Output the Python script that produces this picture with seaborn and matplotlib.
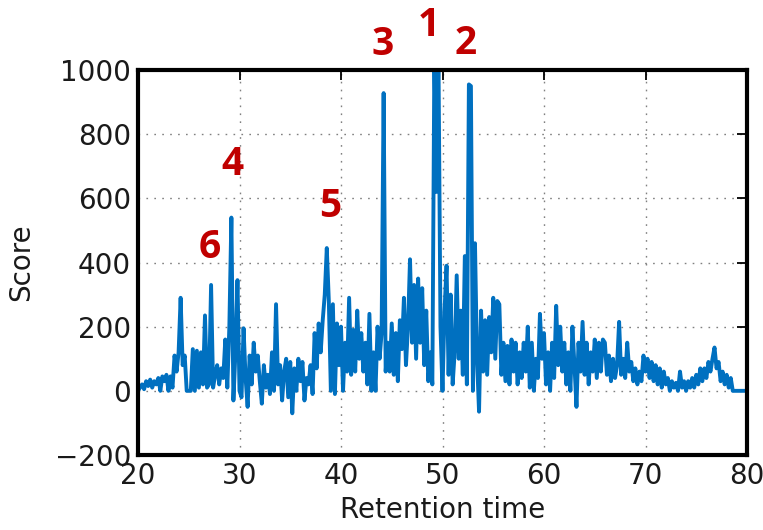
import numpy as np
import pandas as pd
import matplotlib
matplotlib.use("Agg")
import matplotlib.pyplot as plt
import seaborn as sns

# Retention time grid (0.2 min sampling) and scores
rt_start, rt_stop, rt_step = 20.0, 80.0, 0.2
score = [
    0, 10, 20, 5, 30, 15, 35, 10, 30, 20,            # 20.0-21.8
    40, 0, 45, 30, 50, 0, 45, 10, 110, 60,           # 22.0-23.8
    120, 290, 80, 110, 0, 0, 0, 130, 0, 125,         # 24.0-25.8
    10, 120, 20, 235, 10, 20, 330, 10, 50, 80,       # 26.0-27.8
    20, 70, 40, 160, 10, 200, 540, -30, 120, 345,    # 28.0-29.8
    0, -20, 195, 40, -50, 110, 20, 150, 60, 110,     # 30.0-31.8
    30, -40, 80, 10, 50, -10, 120, 0, 270, 20,       # 32.0-33.8
    80, -30, 60, 100, -20, 90, -70, 70, 0, 100,      # 34.0-35.8
    30, 90, -30, 40, 20, 80, -10, 180, 70, 210,      # 36.0-37.8
    120, 220, 300, 445, 280, 0, 270, -10, 210, 80,   # 38.0-39.8
    200, 0, 150, 60, 290, 50, 190, 60, 250, 100,     # 40.0-41.8
    180, 60, 150, 20, 240, 0, 120, 0, 200, 100,      # 42.0-43.8
    180, 928, 60, 150, 60, 210, 50, 180, 30, 220,    # 44.0-45.8
    130, 290, 80, 200, 410, 150, 330, 100, 350, 150, # 46.0-47.8
    320, 80, 250, 30, 120, 20, 1050, 620, 1050, 200, # 48.0-49.8
    0, 250, 390, 50, 300, 20, 120, 360, 100, 250,    # 50.0-51.8
    50, 420, 20, 955, 950, 0, 460, 100, -65, 250,    # 52.0-53.8
    60, 220, 50, 230, 120, 290, 100, 280, 270, 50,   # 54.0-55.8
    150, 30, 140, 20, 160, 60, 150, 20, 120, 40,     # 56.0-57.8
    150, 60, 200, 10, 150, 0, 100, 40, 240, 100,     # 58.0-59.8
    180, 20, 120, 0, 150, 40, 265, 80, 200, 60,      # 60.0-61.8
    150, 20, 120, 0, 200, 80, -50, 150, 60, 215,     # 62.0-63.8
    50, 150, 20, 120, 60, 160, 40, 150, 60, 160,     # 64.0-65.8
    150, 50, 110, 30, 100, 40, 80, 215, 50, 100,     # 66.0-67.8
    40, 150, 60, 90, 30, 70, 20, 60, 30, 110,        # 68.0-69.8
    60, 100, 40, 90, 30, 80, 20, 70, 10, 60,         # 70.0-71.8
    20, 40, 0, 30, 10, 25, 0, 60, 10, 30,            # 72.0-73.8
    0, 30, 10, 40, 10, 50, 20, 70, 30, 70,           # 74.0-75.8
    40, 90, 60, 100, 135, 70, 90, 30, 60, 20,        # 76.0-77.8
    50, 10, 40, 0, 0, 0, 0, 0, 0, 0,                 # 78.0-79.8
    0,                                               # 80.0
]
rt = np.round(rt_start + rt_step * np.arange(len(score)), 1)

peak_labels = ["1", "2", "3", "4", "5", "6"]
peak_label_x = [48.6, 52.3, 44.1, 29.3, 38.9, 27.1]
peak_label_y = [1140, 1084, 1078, 704, 573, 448]

x_ticks = [20, 30, 40, 50, 60, 70, 80]
y_ticks = [-200, 0, 200, 400, 600, 800, 1000]

df = pd.DataFrame({"Retention time": rt, "Score": score})

sns.set_style("white")
plt.rcParams["font.family"] = ["DejaVu Sans"]

fig = plt.figure(figsize=(7.63, 5.30), dpi=100)
ax = fig.add_axes([138 / 763, 1 - 455 / 530, (747 - 138) / 763, (455 - 70) / 530])

sns.lineplot(data=df, x="Retention time", y="Score", ax=ax,
             color="#0070C0", linewidth=2.8, estimator=None)

ax.set_xlim(20, 80)
ax.set_ylim(-200, 1000)
ax.set_xticks(x_ticks)
ax.set_yticks(y_ticks)
ax.set_xticklabels([str(t) for t in x_ticks])
ax.set_yticklabels([("\u2212" + str(-t)) if t < 0 else str(t) for t in y_ticks])

ax.grid(True, linestyle=(0, (1.2, 4.5)), color="#808080", linewidth=1.0)
ax.tick_params(axis="both", which="both", direction="in", length=7, width=1.3,
               top=True, right=True, labelsize=20, colors="black", pad=5,
               labelcolor="#1a1a1a")
for sp in ax.spines.values():
    sp.set_visible(True)
    sp.set_color("black")
    sp.set_linewidth(3.0)

ax.set_xlabel("Retention time", fontsize=20, color="#1a1a1a", labelpad=4)
ax.set_ylabel("Score", fontsize=20, color="#1a1a1a", labelpad=14)

for lab, lx, ly in zip(peak_labels, peak_label_x, peak_label_y):
    ax.text(lx, ly, lab, color="#C00000", fontsize=28, fontweight="bold",
            family=["Open Sans", "DejaVu Sans"], ha="center", va="center",
            clip_on=False)

fig.savefig("out.png", dpi=100)
